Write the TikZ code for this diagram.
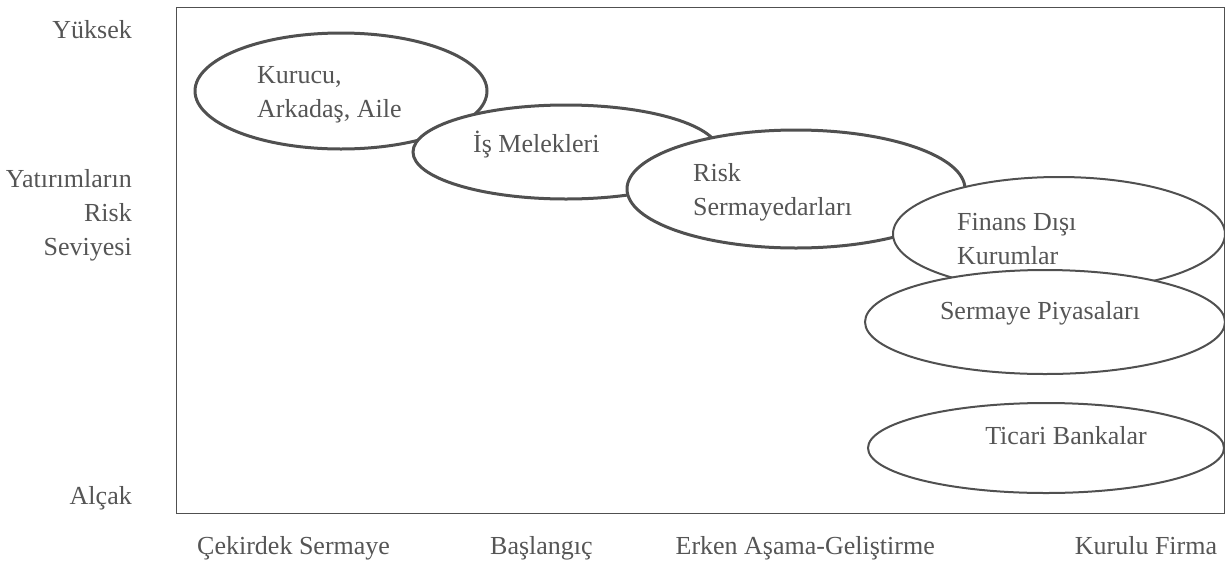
\documentclass[tikz,border=0pt]{standalone}
\usepackage{fontspec}
\setmainfont{Liberation Serif}
\definecolor{txt}{HTML}{555555}
\definecolor{ln}{HTML}{505050}
\begin{document}
\begin{tikzpicture}[x=1pt,y=-1pt,
  lbl/.style={text=txt,font=\fontsize{26}{34}\selectfont,inner sep=0pt},
  heavy/.style={draw=ln,line width=3pt,fill=white},
  light/.style={draw=ln,line width=2pt,fill=white}]
\useasboundingbox (0,0) rectangle (1225,560);
\draw[draw=ln,line width=1pt] (176,7) rectangle (1224,513);
% ellipses
\draw[heavy] (341,91) ellipse [x radius=146,y radius=58];
\draw[heavy] (566,152) ellipse [x radius=153,y radius=47];
\draw[heavy] (796,189) ellipse [x radius=169,y radius=59];
\draw[light] (1059,234) ellipse [x radius=166,y radius=57];
\draw[light] (1045,322) ellipse [x radius=180,y radius=52];
\draw[light] (1046,448) ellipse [x radius=178,y radius=45];
% texts inside
\node[lbl,anchor=west,align=left] (t1) at (257,95) {Kurucu,\\Arkadaş, Aile};
\node[lbl,anchor=west] (t2) at (473,145) {İş Melekleri};
\node[lbl,anchor=west,align=left] (t3) at (693,192) {Risk\\Sermayedarları};
\node[lbl,anchor=west,align=left] (t4) at (957,239) {Finans Dışı\\Kurumlar};
\node[lbl] (t5) at (1040,313) {Sermaye Piyasaları};
\node[lbl] (t6) at (1066,436) {Ticari Bankalar};
% y axis
\node[lbl,anchor=east] (y1) at (132,30) {Yüksek};
\node[lbl,anchor=east,align=right] (y2) at (132,215) {Yatırımların\\Risk\\Seviyesi};
\node[lbl,anchor=east] (y3) at (132,498) {Alçak};
% x axis
\node[lbl,anchor=base west] (x1) at (197,554) {Çekirdek Sermaye};
\node[lbl,anchor=base west] (x2) at (490,554) {Başlangıç};
\node[lbl,anchor=base east] (x3) at (935,554) {Erken Aşama-Geliştirme};
\node[lbl,anchor=base] (x4) at (1146,554) {Kurulu Firma};
\end{tikzpicture}
\end{document}
